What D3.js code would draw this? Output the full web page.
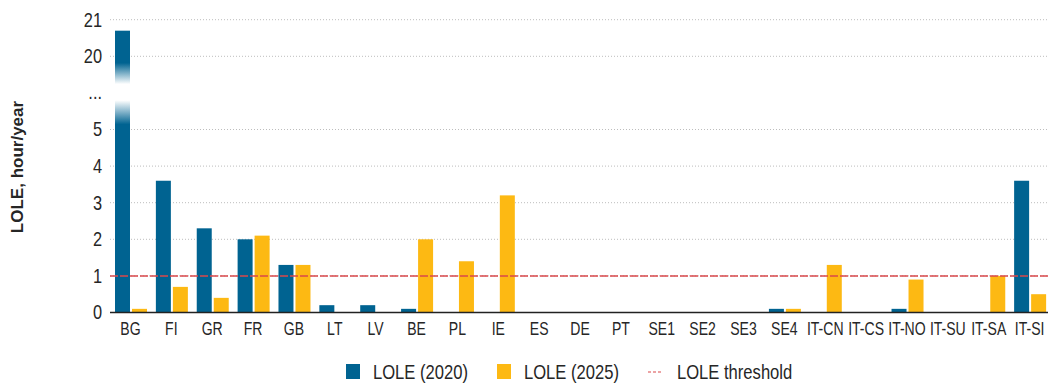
<!DOCTYPE html>
<html>
<head>
<meta charset="utf-8">
<script src="https://cdn.jsdelivr.net/npm/d3@7"></script>
<style>
  html, body { margin: 0; padding: 0; background: #fff; }
  svg { display: block; }
  text { font-family: "Liberation Sans", Arial, sans-serif; fill: #262626; }
</style>
</head>
<body>
<svg id="chart" width="1048" height="385"></svg>
<script>
// Bidding zones
const zones = ["BG","FI","GR","FR","GB","LT","LV","BE","PL","IE","ES","DE","PT",
               "SE1","SE2","SE3","SE4","IT-CN","IT-CS","IT-NO","IT-SU","IT-SA","IT-SI"];
// Loss of load expectation, hour/year
const lole2020 = [20.7, 3.6, 2.3, 2.0, 1.3, 0.2, 0.2, 0.1, 0, 0, 0, 0, 0,
                  0, 0, 0, 0.1, 0, 0, 0.1, 0, 0, 3.6];
const lole2025 = [0.1, 0.7, 0.4, 2.1, 1.3, 0, 0, 2.0, 1.4, 3.2, 0, 0, 0,
                  0, 0, 0, 0.1, 1.3, 0, 0.9, 0, 1.0, 0.5];
const threshold = 1;
// Broken value axis: 0..5, a gap, then 20..21
const yTickValues = [0, 1, 2, 3, 4, 5, 20, 21];
const yBreakLabel = "...";
const seriesNames = ["LOLE (2020)", "LOLE (2025)", "LOLE threshold"];
const yTitle = "LOLE, hour/year";

const colors = { a: "#006391", b: "#fdb913", thr: "#d9484b" };
// condensed lettering
const narrow = s => `scale(${s},1)`;

const svg = d3.select("#chart");
const left = 110, right = 1050, y0 = 312.5, unit = 36.6;

const x = d3.scaleBand().domain(zones).range([left, right]).paddingInner(0).paddingOuter(0);
// piecewise scale: each unit 0..5 is one step, 5..20 spans two steps, 20..21 one step
const y = d3.scaleLinear()
  .domain([0, 5, 20, 21])
  .range([y0, y0 - 5 * unit, y0 - 7 * unit, y0 - 8 * unit]);
const yBreakPos = y0 - 6 * unit;

const barW = 15, gap = 2, inset = 5;

// gridlines
svg.append("g").selectAll("line").data(yTickValues.filter(d => d !== 0)).join("line")
  .attr("x1", left).attr("x2", 1048)
  .attr("y1", d => y(d)).attr("y2", d => y(d))
  .attr("stroke", "#bdbdbd").attr("stroke-width", 1)
  .attr("stroke-dasharray", "1,2");

// y tick labels
const yAxis = d3.axisLeft(y).tickValues(yTickValues).tickSize(0).tickPadding(0).tickFormat(d3.format("d"));
const yg = svg.append("g").attr("transform", `translate(${left - 8},0)`).call(yAxis);
yg.select(".domain").remove();
yg.selectAll("text").style("font-size", "20px").attr("fill", "#262626")
  .style("font-family", "\"Liberation Sans\", Arial, sans-serif").attr("transform", narrow(0.82));
svg.append("g").attr("transform", `translate(${left - 8},${yBreakPos})`)
  .append("text").attr("dy", "0.32em").attr("transform", narrow(0.82))
  .attr("text-anchor", "end").style("font-size", "20px").text(yBreakLabel);

// gradient for the broken bar
const defs = svg.append("defs");
const grad = defs.append("linearGradient").attr("id", "breakGrad")
  .attr("gradientUnits", "userSpaceOnUse")
  .attr("x1", 0).attr("x2", 0).attr("y1", y(20)).attr("y2", y(5));
[[0.09, colors.a], [0.38, "#ffffff"], [0.6, "#ffffff"], [0.93, colors.a]]
  .forEach(([o, c]) => grad.append("stop").attr("offset", o).attr("stop-color", c));

// bars
const rows = zones.map((z, i) => ({ zone: z, a: lole2020[i], b: lole2025[i] }));
svg.append("g").selectAll("rect").data(rows).join("rect")
  .attr("x", d => x(d.zone) + inset)
  .attr("width", barW)
  .attr("y", d => y(d.a))
  .attr("height", d => y0 - y(d.a))
  .attr("fill", d => d.a > 5 ? "url(#breakGrad)" : colors.a);
svg.append("g").selectAll("rect").data(rows).join("rect")
  .attr("x", d => x(d.zone) + inset + barW + gap)
  .attr("width", barW)
  .attr("y", d => y(d.b))
  .attr("height", d => y0 - y(d.b))
  .attr("fill", colors.b);

// x axis
const xAxis = d3.axisBottom(x).tickSize(0).tickPadding(10);
const xg = svg.append("g").attr("transform", `translate(0,${y0})`).call(xAxis);
xg.select(".domain").remove();
xg.selectAll("text").style("font-size", "18px").attr("fill", "#262626")
  .style("font-family", "\"Liberation Sans\", Arial, sans-serif").attr("transform", narrow(0.78));
svg.append("line").attr("x1", left).attr("x2", 1048).attr("y1", y0).attr("y2", y0)
  .attr("stroke", "#222").attr("stroke-width", 1.5);

// threshold
svg.append("line").attr("x1", left).attr("x2", 1048)
  .attr("y1", y(threshold)).attr("y2", y(threshold))
  .attr("stroke", colors.thr).attr("stroke-width", 1.5).attr("stroke-dasharray", "8,2");

// y title
svg.append("text").attr("transform", `translate(23,${167}) rotate(-90)`)
  .attr("text-anchor", "middle").style("font-size", "17px").style("font-weight", "bold")
  .text(yTitle);

// legend
const lg = svg.append("g").attr("transform", "translate(0,372)");
const legendItems = [
  { name: seriesNames[0], kind: "rect", color: colors.a, x: 346 },
  { name: seriesNames[1], kind: "rect", color: colors.b, x: 497 },
  { name: seriesNames[2], kind: "line", color: colors.thr, x: 648 }
];
legendItems.forEach(it => {
  if (it.kind === "rect") {
    lg.append("rect").attr("x", it.x).attr("y", -8).attr("width", 14).attr("height", 15).attr("fill", it.color);
  } else {
    lg.append("line").attr("x1", it.x).attr("x2", it.x + 15).attr("y1", 0).attr("y2", 0)
      .attr("stroke", it.color).attr("stroke-width", 1.2).attr("stroke-dasharray", "3,2");
  }
  lg.append("g").attr("transform", `translate(${it.x + (it.kind === "rect" ? 27 : 29)},0)`)
    .append("text").attr("dy", "0.35em").attr("transform", narrow(0.83))
    .style("font-size", "20px").text(it.name);
});
</script>
</body>
</html>
